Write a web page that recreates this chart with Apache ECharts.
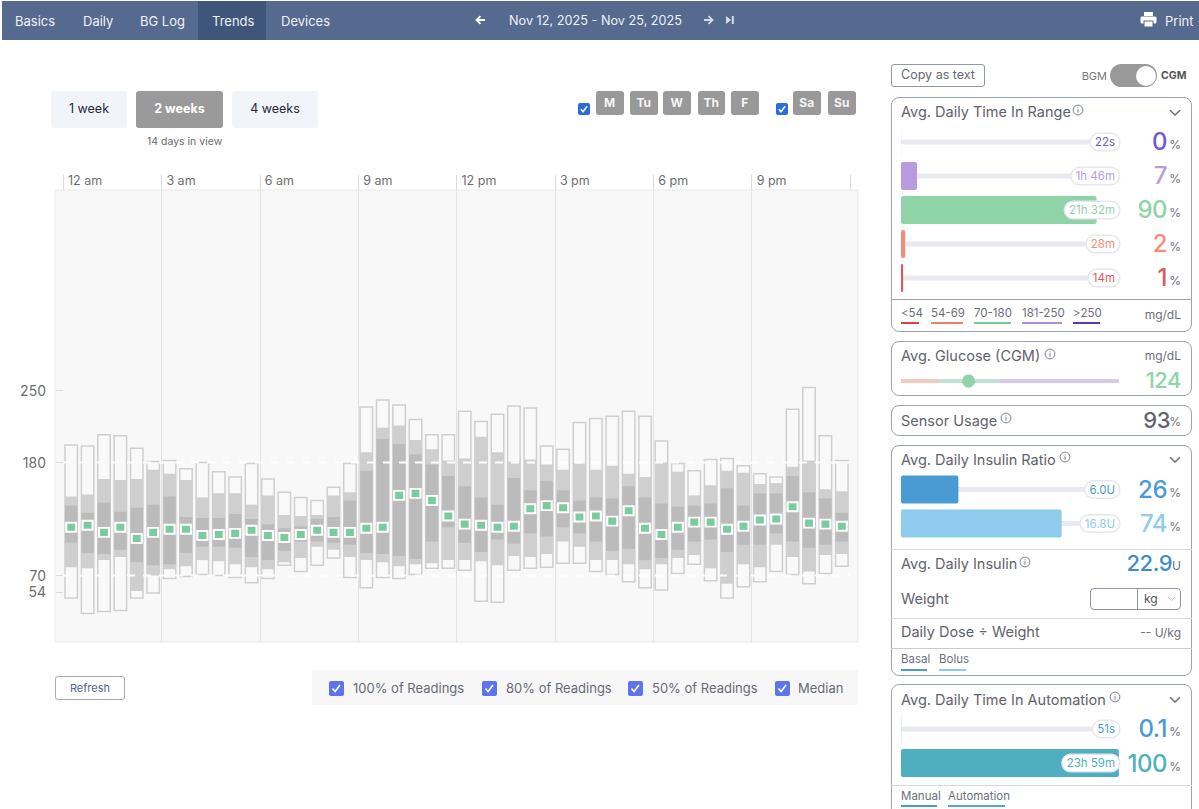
<!DOCTYPE html>
<html><head><meta charset="utf-8"><title>Trends</title>
<script src="https://cdn.jsdelivr.net/npm/echarts@6/dist/echarts.min.js"></script>
<style>
html,body{margin:0;padding:0;background:#fff;width:1199px;height:809px;overflow:hidden;font-family:Inter,"Open Sans",sans-serif;}
#chart{position:absolute;left:0;top:0;width:1199px;height:809px;z-index:2;}
#ui{position:absolute;left:0;top:0;width:1199px;height:809px;z-index:1;}
.b{position:absolute;box-sizing:border-box;}
.b svg{display:block;}
.t{position:absolute;white-space:nowrap;line-height:1;transform:translateY(-50%);}
</style></head><body>
<div id="ui"></div><div id="chart"></div>
<script>
// ---- chart data (mg/dL, one column per half-hour slot) ----
const hourLabels=['12 am','3 am','6 am','9 am','12 pm','3 pm','6 pm','9 pm',''];
const yTicks=[54,70,180,250];
const targets=[70,180];
const maxVals=[197,196,207,206,194,181,182,174,180,171,166,179,164,151,146,143,156,179,234,241,236,222,207,207,230,220,227,235,233,196,193,219,223,225,230,225,201,179,172,183,184,177,169,166,232,253,206,182];
const p90Vals=[147,149,164,163,164,173,169,163,146,150,150,139,148,129,128,129,148,151,190,214,216,202,193,182,184,205,190,181,183,178,173,179,173,177,169,166,180,171,148,158,172,170,159,160,176,182,154,152];
const p75Vals=[138,131,141,132,136,139,147,127,126,126,130,125,120,116,118,125,127,143,172,203,198,188,178,167,157,146,139,165,153,162,153,143,146,145,157,146,140,137,138,140,155,138,150,150,167,151,145,131];
const medianVals=[117,119,112,117,106,112,115,115,109,110,111,114,109,107,110,114,112,112,116,117,148,150,143,128,120,119,117,118,135,138,136,127,128,123,133,116,110,117,122,122,115,118,124,125,137,121,120,118];
const p25Vals=[102,92,91,95,83,80,81,92,98,98,97,88,85,94,103,103,102,100,92,91,89,86,103,117,102,93,105,101,111,108,117,111,103,94,96,85,87,95,103,105,93,100,100,111,103,97,100,103];
const p10Vals=[78,77,85,88,55,70,76,79,85,84,81,78,76,83,87,98,95,88,85,83,79,81,82,85,85,84,80,89,88,91,103,98,85,85,81,76,81,87,90,77,62,81,78,100,88,74,90,91];
const minVals=[48,33,35,36,48,53,67,69,71,70,68,63,67,80,74,80,87,68,58,68,67,71,77,77,75,45,44,75,77,78,82,82,74,71,64,58,56,72,81,65,48,59,64,74,71,62,72,79];
// time in range (minutes per day)
const tirNames=['>250','181-250','70-180','54-69','<54'];
const tirMinutes=[0.37,106,1292,28,14];
const tirTimes=['22s','1h 46m','21h 32m','28m','14m'];
const tirPercents=['0','7','90','2','1'];
const tirColors=['#7558c9','#b79ce2','#8fd3a9','#f38c78','#de5a5a'];
const dayMinutes=1440;
// average glucose bands
const glucoseBands=[70,110,220];
const glucoseBandColors=['#f7c6bc','#bfe5ce','#d8c9f0'];
const avgGlucose=124;
// insulin
const insulinNames=['Basal','Bolus'];
const insulinUnits=[6.0,16.8];
const insulinTotal=22.8;
const insulinTimes=['6.0U','16.8U'];
const insulinPercents=['26','74'];
const insulinColors=['#4a9bd4','#8fcbec'];
// automation (minutes per day)
const autoNames=['Manual','Automation'];
const autoMinutes=[0.85,1439];
const autoTimes=['51s','23h 59m'];
const autoPercents=['0.1','100'];
const autoColors=['#4a9bd4','#4fafc1'];

// ---- page chrome ----
const ui=document.getElementById('ui');
function box(x,y,w,h,css){const d=document.createElement('div');d.className='b';d.style.cssText=`left:${x}px;top:${y}px;width:${w}px;height:${h}px;${css||''}`;ui.appendChild(d);return d;}
function txt(x,y,s,css,right){const d=document.createElement('div');d.className='t';d.textContent=s;
 d.style.cssText=(right?`right:${1199-x}px;`:`left:${x}px;`)+`top:${y}px;${css||''}`;ui.appendChild(d);return d;}
function ctr(x,y,s,css){const d=txt(x,y,s,css,false);d.style.transform='translate(-50%,-50%)';return d;}
function svg(x,y,w,h,inner){const d=box(x,y,w,h,'');d.innerHTML=`<svg width="${w}" height="${h}" viewBox="0 0 ${w} ${h}" xmlns="http://www.w3.org/2000/svg">${inner}</svg>`;return d;}
function check(x,y,s,c){box(x,y,s,s,`background:${c};border-radius:2px;`);svg(x,y,s,s,`<path d="M${s*.24} ${s*.52}L${s*.42} ${s*.72}L${s*.76} ${s*.28}" fill="none" stroke="#fff" stroke-width="1.6"/>`);}
function info(x,y){svg(x,y,12,12,'<circle cx="6" cy="6" r="4.9" fill="none" stroke="#707582" stroke-width="0.9"/><path d="M6 5.3V8.6M6 3.4V4.3" stroke="#707582" stroke-width="1"/>');}
function chev(x,y){svg(x,y,12,8,'<path d="M1 1.2L6 6L11 1.2" fill="none" stroke="#6b6f7a" stroke-width="1.5"/>');}

// nav
box(2,1,1197,38.5,'background:#56698f;');
box(198,1,68,38.5,'background:#3f5579;');
const navS='font-size:13px;color:#eef1f6;';
[['Basics',15],['Daily',83],['BG Log',140],['Trends',212],['Devices',281]].forEach(n=>txt(n[1],20.5,n[0],navS));
svg(475,15,11,10,'<path d="M10 5H2M5.5 1.2L1.5 5L5.5 8.8" fill="none" stroke="#fff" stroke-width="1.8"/>');
txt(509,20.5,'Nov 12, 2025 - Nov 25, 2025','font-size:12.7px;color:#eef1f6;');
svg(703,15,11,10,'<path d="M1 5H9M5.5 1.2L9.5 5L5.5 8.8" fill="none" stroke="#d5dae6" stroke-width="1.8"/>');
svg(725,15,10,10,'<path d="M1 1L6 5L1 9Z" fill="#d5dae6"/><rect x="6.8" y="1" width="2" height="8" fill="#d5dae6"/>');
svg(1140,11,17,17,'<rect x="4" y="1" width="9" height="4" fill="#fff"/><rect x="0.5" y="5.5" width="16" height="7" rx="1.5" fill="#fff"/><rect x="4" y="10" width="9" height="6" fill="#fff" stroke="#56698f" stroke-width="1"/>');
txt(1165,20.5,'Print',navS);

// range buttons
[[51,76,'1 week',0],[136,87,'2 weeks',1],[232,86,'4 weeks',0]].forEach(b=>{
 box(b[0],91,b[1],37,`border-radius:3px;background:${b[3]?'#9a9a9a':'#f1f5f9'};`);
 ctr(b[0]+b[1]/2,108.8,b[2],b[3]?'font-size:12.5px;font-weight:700;color:#fff;':'font-size:12.5px;color:#27273f;');
});
txt(147,142,'14 days in view','font-size:10.5px;color:#6b6b6b;');
check(578,103,12,'#2a6be0');check(776,103,12,'#2a6be0');
[[596,'M'],[630,'Tu'],[663,'W'],[697.5,'Th'],[731,'F'],[793,'Sa'],[828,'Su']].forEach(d=>{
 box(d[0],91,27.5,24,'background:#999;border-radius:3px;');
 ctr(d[0]+13.7,102.5,d[1],'font-size:12px;font-weight:700;color:#f4f4f4;');
});

// plot legend
box(55,676,70,24,'border:1.2px solid #a3abbd;border-radius:3px;');
ctr(90,688,'Refresh','font-size:11px;color:#53688e;');
box(312,670,546,35,'background:#f7f7f8;');
[[329,353,'100% of Readings'],[482,506,'80% of Readings'],[628,652,'50% of Readings'],[775,798,'Median']].forEach(l=>{
 check(l[0],681,14.5,'#5f74ec');
 txt(l[1],688,l[2],'font-size:13px;color:#676b75;');
});

// sidebar
const panel='border:1.2px solid #9aa2b8;border-radius:8px;';
const title='font-size:14.5px;color:#5f636b;';
const unit='font-size:12px;color:#6b6f78;';
const rule=(y,c)=>box(891,y,301,1,`background:${c||'#d5d8e2'};`);
function big(y,val,color){
 txt(1167,y,val,`font-size:24px;font-weight:500;color:${color};letter-spacing:-.5px;`,true);
 txt(1181,y+3,'%',unit,true);
}
function legend(items,y,uy){items.forEach(i=>{txt(i[0],y,i[2],'font-size:11.5px;color:#6b6f78;');box(i[0],uy,i[1],2,`background:${i[3]};`);});}

box(891,64,94,23,'border:1.2px solid #8f98ae;border-radius:3px;');
ctr(938,75,'Copy as text','font-size:12.5px;color:#666a72;');
txt(1107,75.5,'BGM','font-size:11px;color:#777;',true);
box(1110,64,47,23,'background:#999;border-radius:12px;');
box(1136,65.5,20,20,'background:#fff;border-radius:50%;');
txt(1161,75.5,'CGM','font-size:10.5px;font-weight:700;color:#555;');

box(891,97,301,235,panel);
txt(901,112,'Avg. Daily Time In Range',title);info(1072,104);chev(1169,108.5);
tirPercents.forEach((p,i)=>big([142,176,210,243.5,277.5][i],p,tirColors[i]));
rule(299,'#9aa2b8');
legend([[901,18,'<54','#de3f3f'],[931,32,'54-69','#f0806e'],[974,37,'70-180','#79c998'],[1022,40,'181-250','#a98ddc'],[1073,27,'>250','#5a36c0']],314,321.5);
txt(1181,315,'mg/dL',unit,true);

box(891,341,301,55,panel);
txt(901,356,'Avg. Glucose (CGM)',title);info(1044,347.5);
txt(1181,356,'mg/dL',unit,true);
txt(1181,380,String(avgGlucose),'font-size:22px;font-weight:500;color:#8fd3a9;letter-spacing:-.5px;',true);

box(891,405,301,31,panel);
txt(901,420.5,'Sensor Usage',title);info(1000,412);
txt(1170,420,'93','font-size:22px;font-weight:500;color:#5f636b;letter-spacing:-.5px;',true);
txt(1181,422,'%',unit,true);

box(891,445,301,231,panel);
txt(901,459.5,'Avg. Daily Insulin Ratio',title);info(1059,451);chev(1169,456);
insulinPercents.forEach((p,i)=>big([489.5,523.5][i],p,insulinColors[i]));
rule(549);
txt(901,563.5,'Avg. Daily Insulin',title);info(1019,556);
txt(1172,563,'22.9','font-size:22px;font-weight:500;color:#3f8dcb;letter-spacing:-.5px;',true);
txt(1181,566,'U',unit,true);
txt(901,598.5,'Weight',title);
box(1090,588,91,22,'border:1.2px solid #8f94a3;border-radius:4px;');
box(1137,588,1,22,'background:#8f94a3;');
txt(1144,599,'kg','font-size:12px;color:#555;');
svg(1167,596,9,6,'<path d="M1 1L4.5 4.5L8 1" fill="none" stroke="#c8c8c8" stroke-width="1"/>');
rule(617.5);
txt(901,632,'Daily Dose ÷ Weight',title);
txt(1181,632.5,'-- U/kg',unit,true);
rule(648,'#c6cad6');
legend([[901,26,'Basal','#4a9bd4'],[939,27,'Bolus','#8fcbec']],660,668.5);

box(891,684,301,140,panel);
txt(901,699.5,'Avg. Daily Time In Automation',title);info(1109,691);chev(1169,696);
autoPercents.forEach((p,i)=>big([729,763.5][i],p,autoColors[i]));
rule(785);
legend([[901,36,'Manual','#4a9bd4'],[948,57,'Automation','#4fafc1']],797,804.5);

// ---- echarts ----
const slots=medianVals.map((_,i)=>15+30*i);
const boxRows=slots.map((s,i)=>[s,maxVals[i],p90Vals[i],p75Vals[i],p25Vals[i],p10Vals[i],minVals[i]]);

function barPanel(gridIdx,axisMax,names,values,times,colors){
 return {
  x:{type:'value',gridIndex:gridIdx,min:0,max:axisMax,show:false},
  y:[{type:'category',gridIndex:gridIdx,data:names,inverse:true,show:false},
     {type:'category',gridIndex:gridIdx,data:names,inverse:true,show:false}],
  xi:gridIdx,values,times,colors,axisMax
 };
}
const panels=[
 barPanel(1,dayMinutes,tirNames,tirMinutes,tirTimes,tirColors),
 barPanel(2,insulinTotal,insulinNames,insulinUnits,insulinTimes,insulinColors),
 barPanel(3,dayMinutes,autoNames,autoMinutes,autoTimes,autoColors)
];
const xAxes=[{type:'value',gridIndex:0,position:'top',min:0,max:1440,interval:180,
 axisLine:{show:false},
 axisTick:{show:true,length:15,lineStyle:{color:'#dcdcdc',width:1}},
 splitLine:{show:true,showMinLine:false,showMaxLine:false,lineStyle:{color:'#e3e3e3',width:1}},
 axisLabel:{show:true,margin:3,align:'left',padding:[0,0,0,5],color:'#6e6e6e',fontSize:12.5,fontFamily:'Inter',
  formatter:v=>hourLabels[v/180],showMaxLabel:true}}];
const yAxes=[{type:'value',gridIndex:0,min:5.25,max:445.4,offset:8,splitLine:{show:false},axisLine:{show:false},
 axisTick:{show:true,length:7,lineStyle:{color:'#dcdcdc'},customValues:yTicks},
 axisLabel:{show:true,margin:9,color:'#6e6e6e',fontSize:14,fontFamily:'Inter',customValues:yTicks}}];
const series=[
 {name:'Readings',type:'custom',xAxisIndex:0,yAxisIndex:0,z:2,clip:false,data:boxRows,encode:{x:0,y:[1,2,3,4,5,6]},
  renderItem:(p,api)=>{
   const x=api.value(0),w=api.size([30,0])[0]*0.76;
   const r=(hi,lo,fill,stroke)=>{const a=api.coord([x,hi]),b=api.coord([x,lo]);
     return {type:'rect',shape:{x:a[0]-w/2,y:a[1],width:w,height:b[1]-a[1]},
       style:{fill,stroke:stroke||null,lineWidth:stroke?1.5:0}};};
   return {type:'group',children:[
     r(api.value(1),api.value(6),'#f9f9f9','#cfcfcf'),
     r(api.value(2),api.value(5),'#cfcfcf'),
     r(api.value(3),api.value(4),'#bbbbbb')]};
  }},
 ...targets.map(t=>({type:'line',xAxisIndex:0,yAxisIndex:0,z:5,symbol:'none',silent:true,
   data:[[0,t],[1440,t]],lineStyle:{color:'#ffffff',width:2,type:[8,8]}})),
 {name:'Median',type:'scatter',xAxisIndex:0,yAxisIndex:0,z:10,symbol:'rect',symbolSize:[10,9],
  data:medianVals.map((v,i)=>[slots[i],v]),itemStyle:{color:'#7bcba0',borderColor:'#ffffff',borderWidth:2,opacity:1}}
];
let axisIdx=1;
panels.forEach(pn=>{
 xAxes.push(pn.x);
 const yBar=axisIdx++, yTrack=axisIdx++;
 yAxes.push(pn.y[0],pn.y[1]);
 const xi=pn.xi;
 series.push({type:'bar',xAxisIndex:xi,yAxisIndex:yTrack,barWidth:5,z:1,silent:true,
   data:pn.values.map(()=>pn.axisMax),itemStyle:{color:'#e9eaf0',borderRadius:2.5}});
 series.push({type:'bar',xAxisIndex:xi,yAxisIndex:yBar,barWidth:28,z:2,silent:true,
   data:pn.values.map((v,i)=>({value:v,itemStyle:{color:pn.colors[i],borderRadius:2}}))});
 series.push({type:'bar',xAxisIndex:xi,yAxisIndex:yTrack,barWidth:5,barGap:'-100%',z:3,silent:true,
   data:pn.values.map((v,i)=>({value:pn.axisMax,itemStyle:{color:'transparent'},
     label:{show:true,position:'insideRight',distance:0,formatter:pn.times[i],color:pn.colors[i],
       fontSize:11.5,fontFamily:'Inter',backgroundColor:'#ffffff',borderColor:'#e6e7ee',borderWidth:1.5,
       borderRadius:8,padding:[2,4]}}))});
});
xAxes.push({type:'value',gridIndex:4,min:0,max:400,show:false});
yAxes.push({type:'category',gridIndex:4,data:['Glucose'],show:false});
const gy=yAxes.length-1,gx=xAxes.length-1;
glucoseBands.forEach((v,i)=>series.push({type:'bar',xAxisIndex:gx,yAxisIndex:gy,stack:'g',barWidth:4,z:1,silent:true,
  data:[v],itemStyle:{color:glucoseBandColors[i]}}));
series.push({type:'scatter',xAxisIndex:gx,yAxisIndex:gy,z:3,symbol:'circle',symbolSize:13,silent:true,
  data:[[avgGlucose,'Glucose']],itemStyle:{color:'#8fd3a9',opacity:1}});

const chart=echarts.init(document.getElementById('chart'),null,{renderer:'svg',width:1199,height:809});
chart.setOption({
 animation:false,
 backgroundColor:'transparent',
 grid:[
  {left:63,top:190,width:787,height:452},
  {left:901,top:125,width:218,height:170},
  {left:901,top:472.5,width:218,height:68},
  {left:901,top:712,width:218,height:68},
  {left:901,top:371,width:218,height:20}
 ],
 graphic:[{type:'rect',z:-5,silent:true,shape:{x:55,y:190,width:803,height:452},
   style:{fill:'#f8f8f8',stroke:'#e9e9e9',lineWidth:1}}],
 xAxis:xAxes,yAxis:yAxes,series:series
});
</script>
</body></html>
